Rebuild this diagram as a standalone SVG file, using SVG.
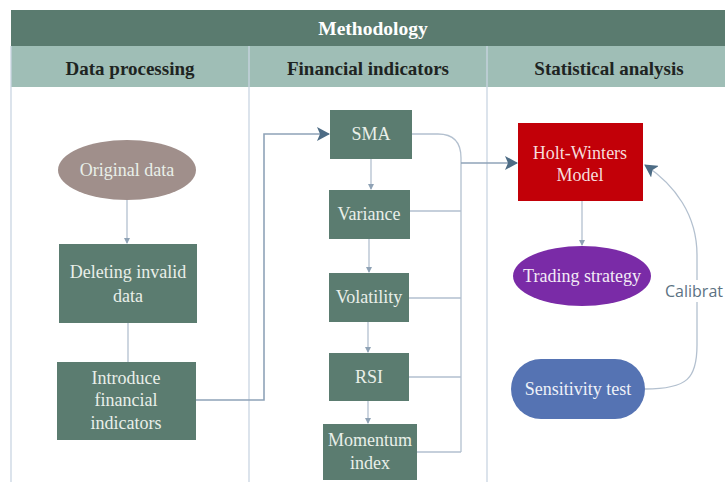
<svg xmlns="http://www.w3.org/2000/svg" width="725" height="482" viewBox="0 0 725 482">
<defs>
<style>
.hdr{font-family:"Liberation Serif","Times New Roman",serif;font-weight:bold;font-size:19px;fill:#1e2422;text-anchor:middle}
.ttl{font-family:"Liberation Serif","Times New Roman",serif;font-weight:bold;font-size:19.5px;fill:#ffffff;text-anchor:middle}
.nt{font-family:"Liberation Serif","Times New Roman",serif;font-size:18px;fill:#e9efe9;text-anchor:middle}
.box{fill:#5b7c70}
.ln{fill:none;stroke:#b3c0cf;stroke-width:1.3}
.ln2{fill:none;stroke:#8fa3b8;stroke-width:1.6}
.div{stroke:#c9d5e2;stroke-width:1.3}
</style>
<marker id="big" markerWidth="14" markerHeight="14" refX="12" refY="7" orient="auto" markerUnits="userSpaceOnUse">
<path d="M0,0 L13,7 L0,14 L3,7 Z" fill="#4d6c85"/>
</marker>
<marker id="sm" markerWidth="6" markerHeight="6" refX="5" refY="3" orient="auto" markerUnits="userSpaceOnUse">
<path d="M0,0 L6,3 L0,6 Z" fill="#8fa2b5"/>
</marker>
</defs>
<rect width="725" height="482" fill="#ffffff"/>
<g id="table">
<rect x="11" y="10" width="714" height="36" fill="#5a7b6f"/>
<rect x="11" y="46" width="714" height="41" fill="#9fbeb6"/>
<line class="div" x1="11" y1="46" x2="11" y2="482"/>
<line class="div" x1="249" y1="46" x2="249" y2="482"/>
<line class="div" x1="487" y1="46" x2="487" y2="482"/>
<text class="ttl" x="373" y="35">Methodology</text>
<text class="hdr" x="130" y="75">Data processing</text>
<text class="hdr" x="368" y="75">Financial indicators</text>
<text class="hdr" x="609" y="75">Statistical analysis</text>
</g>
<g id="connectors">
<line class="ln" x1="127" y1="200" x2="127" y2="243" marker-end="url(#sm)"/>
<line class="ln" x1="128" y1="323" x2="128" y2="362"/>
<path class="ln2" d="M196,400 H264 V134 H329" marker-end="url(#big)"/>
<line class="ln" x1="371" y1="159" x2="371" y2="189" marker-end="url(#sm)"/>
<line class="ln" x1="369" y1="239" x2="369" y2="272" marker-end="url(#sm)"/>
<line class="ln" x1="368" y1="322" x2="368" y2="352" marker-end="url(#sm)"/>
<line class="ln" x1="368" y1="401" x2="368" y2="423" marker-end="url(#sm)"/>
<path class="ln" d="M412,134 H438 Q461,134 461,158 V452"/>
<path class="ln" d="M410,211 H461 M409,298 H461 M409,377 H461 M417,452 H461"/>
<path class="ln2" d="M461,163 H517" marker-end="url(#big)"/>
<line class="ln" x1="582" y1="201" x2="582" y2="245" marker-end="url(#sm)"/>
<path class="ln" d="M645,389 C688,389 697,378 697,345 V255 C697,215 675,185 645,165" marker-end="url(#big)"/>
<rect x="662" y="280" width="63" height="22" fill="#ffffff"/>
<text x="665" y="297" font-family="'Open Sans','Liberation Sans',sans-serif" font-size="16" fill="#5c7283">Calibrat</text>
</g>
<g id="original-data">
<ellipse cx="127" cy="170" rx="69" ry="30" fill="#a08f8b"/>
<text class="nt" x="127" y="176">Original data</text>
</g>
<g id="deleting-invalid-data">
<rect class="box" x="59" y="244" width="138" height="79"/>
<text class="nt" x="128" y="278">Deleting invalid</text>
<text class="nt" x="128" y="302">data</text>
</g>
<g id="introduce-financial-indicators">
<rect class="box" x="57" y="362" width="139" height="78"/>
<text class="nt" x="126" y="384">Introduce</text>
<text class="nt" x="126" y="406">financial</text>
<text class="nt" x="126" y="429">indicators</text>
</g>
<g id="sma">
<rect class="box" x="330" y="110" width="82" height="49"/>
<text class="nt" x="371" y="140">SMA</text>
</g>
<g id="variance">
<rect class="box" x="329" y="190" width="81" height="49"/>
<text class="nt" x="369" y="220">Variance</text>
</g>
<g id="volatility">
<rect class="box" x="329" y="273" width="80" height="49"/>
<text class="nt" x="369" y="303">Volatility</text>
</g>
<g id="rsi">
<rect class="box" x="329" y="353" width="80" height="48"/>
<text class="nt" x="369" y="383">RSI</text>
</g>
<g id="momentum-index">
<rect class="box" x="323" y="424" width="94" height="56"/>
<text class="nt" x="370" y="446">Momentum</text>
<text class="nt" x="370" y="469">index</text>
</g>
<g id="holt-winters-model">
<rect x="518" y="123" width="125" height="78" fill="#c20008"/>
<text class="nt" x="580" y="159" style="fill:#f6dcdc">Holt-Winters</text>
<text class="nt" x="580" y="181" style="fill:#f6dcdc">Model</text>
</g>
<g id="trading-strategy">
<ellipse cx="582" cy="276" rx="69" ry="30" fill="#7a2ba7"/>
<text class="nt" x="582" y="282" style="fill:#f3eaf6">Trading strategy</text>
</g>
<g id="sensitivity-test">
<rect x="511" y="359" width="134" height="60" rx="30" ry="30" fill="#5573b3"/>
<text class="nt" x="578" y="395" style="fill:#eef1f8">Sensitivity test</text>
</g>
</svg>
